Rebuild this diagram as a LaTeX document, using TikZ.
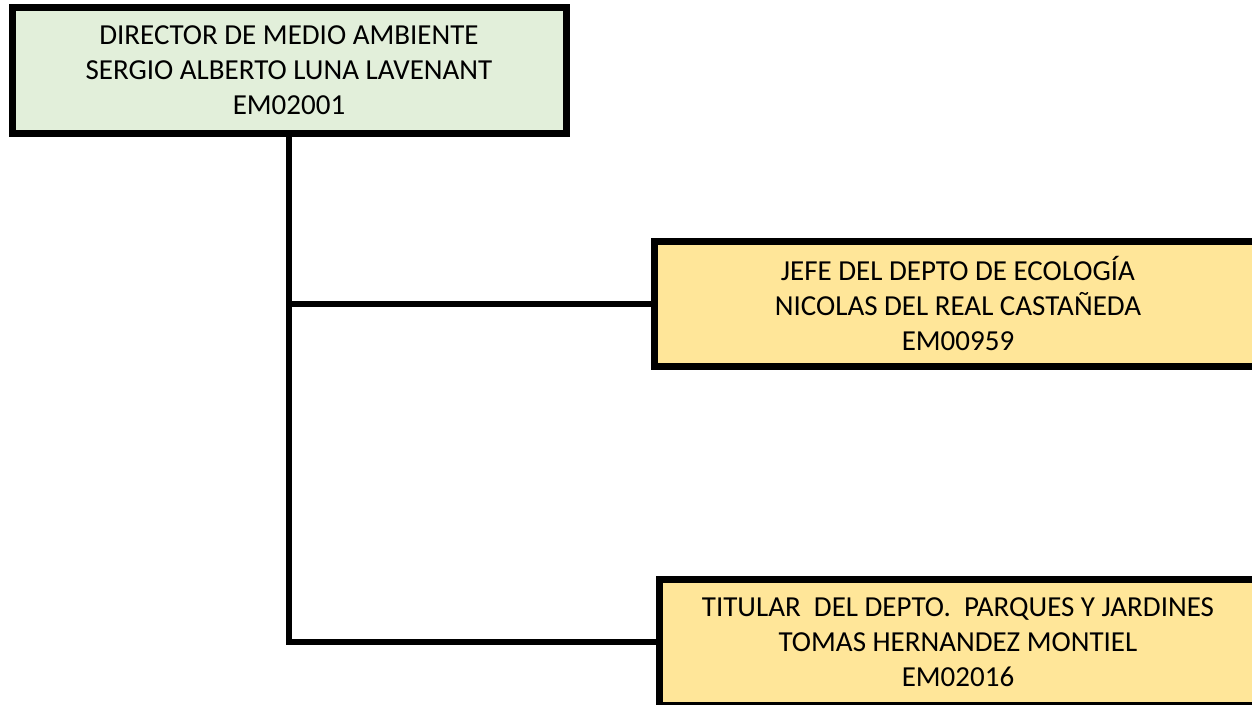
\documentclass[tikz,border=0pt]{standalone}
\usepackage{fontspec}
\setmainfont{Carlito}
\definecolor{boxgreen}{HTML}{E2EFDA}
\definecolor{boxyellow}{HTML}{FFE699}
\begin{document}
\begin{tikzpicture}[x=1pt,y=-1pt,
  orgbox/.style={draw=black, line width=7pt, rectangle, inner sep=0pt, outer sep=0pt,
    align=center, font=\fontsize{29}{35}\selectfont},
  link/.style={draw=black, line width=6pt, line cap=rect}]
\useasboundingbox (0,0) rectangle (1252,704);
\fill[white] (0,0) rectangle (1252,704);
\clip (0,0) rectangle (1252,704);
\node[orgbox, fill=boxgreen, minimum width=554pt, minimum height=126pt] (dir) at (289,70)
  {DIRECTOR DE MEDIO AMBIENTE\\SERGIO ALBERTO LUNA LAVENANT\\EM02001};
\node[orgbox, fill=boxyellow, minimum width=608pt, minimum height=125pt] (eco) at (958,303.5)
  {JEFE DEL DEPTO DE ECOLOGÍA\\NICOLAS DEL REAL CASTAÑEDA\\EM00959};
\node[orgbox, fill=boxyellow, minimum width=598pt, minimum height=126pt] (par) at (958,642)
  {TITULAR\ \ DEL DEPTO.\ \ PARQUES Y JARDINES\\TOMAS HERNANDEZ MONTIEL\\EM02016};
\coordinate (j1) at (dir.south |- eco.west);
\draw[link] (dir.south) -- (dir.south |- par.west) -- (par.west);
\draw[link] (j1) -- (eco.west);
\end{tikzpicture}
\end{document}
